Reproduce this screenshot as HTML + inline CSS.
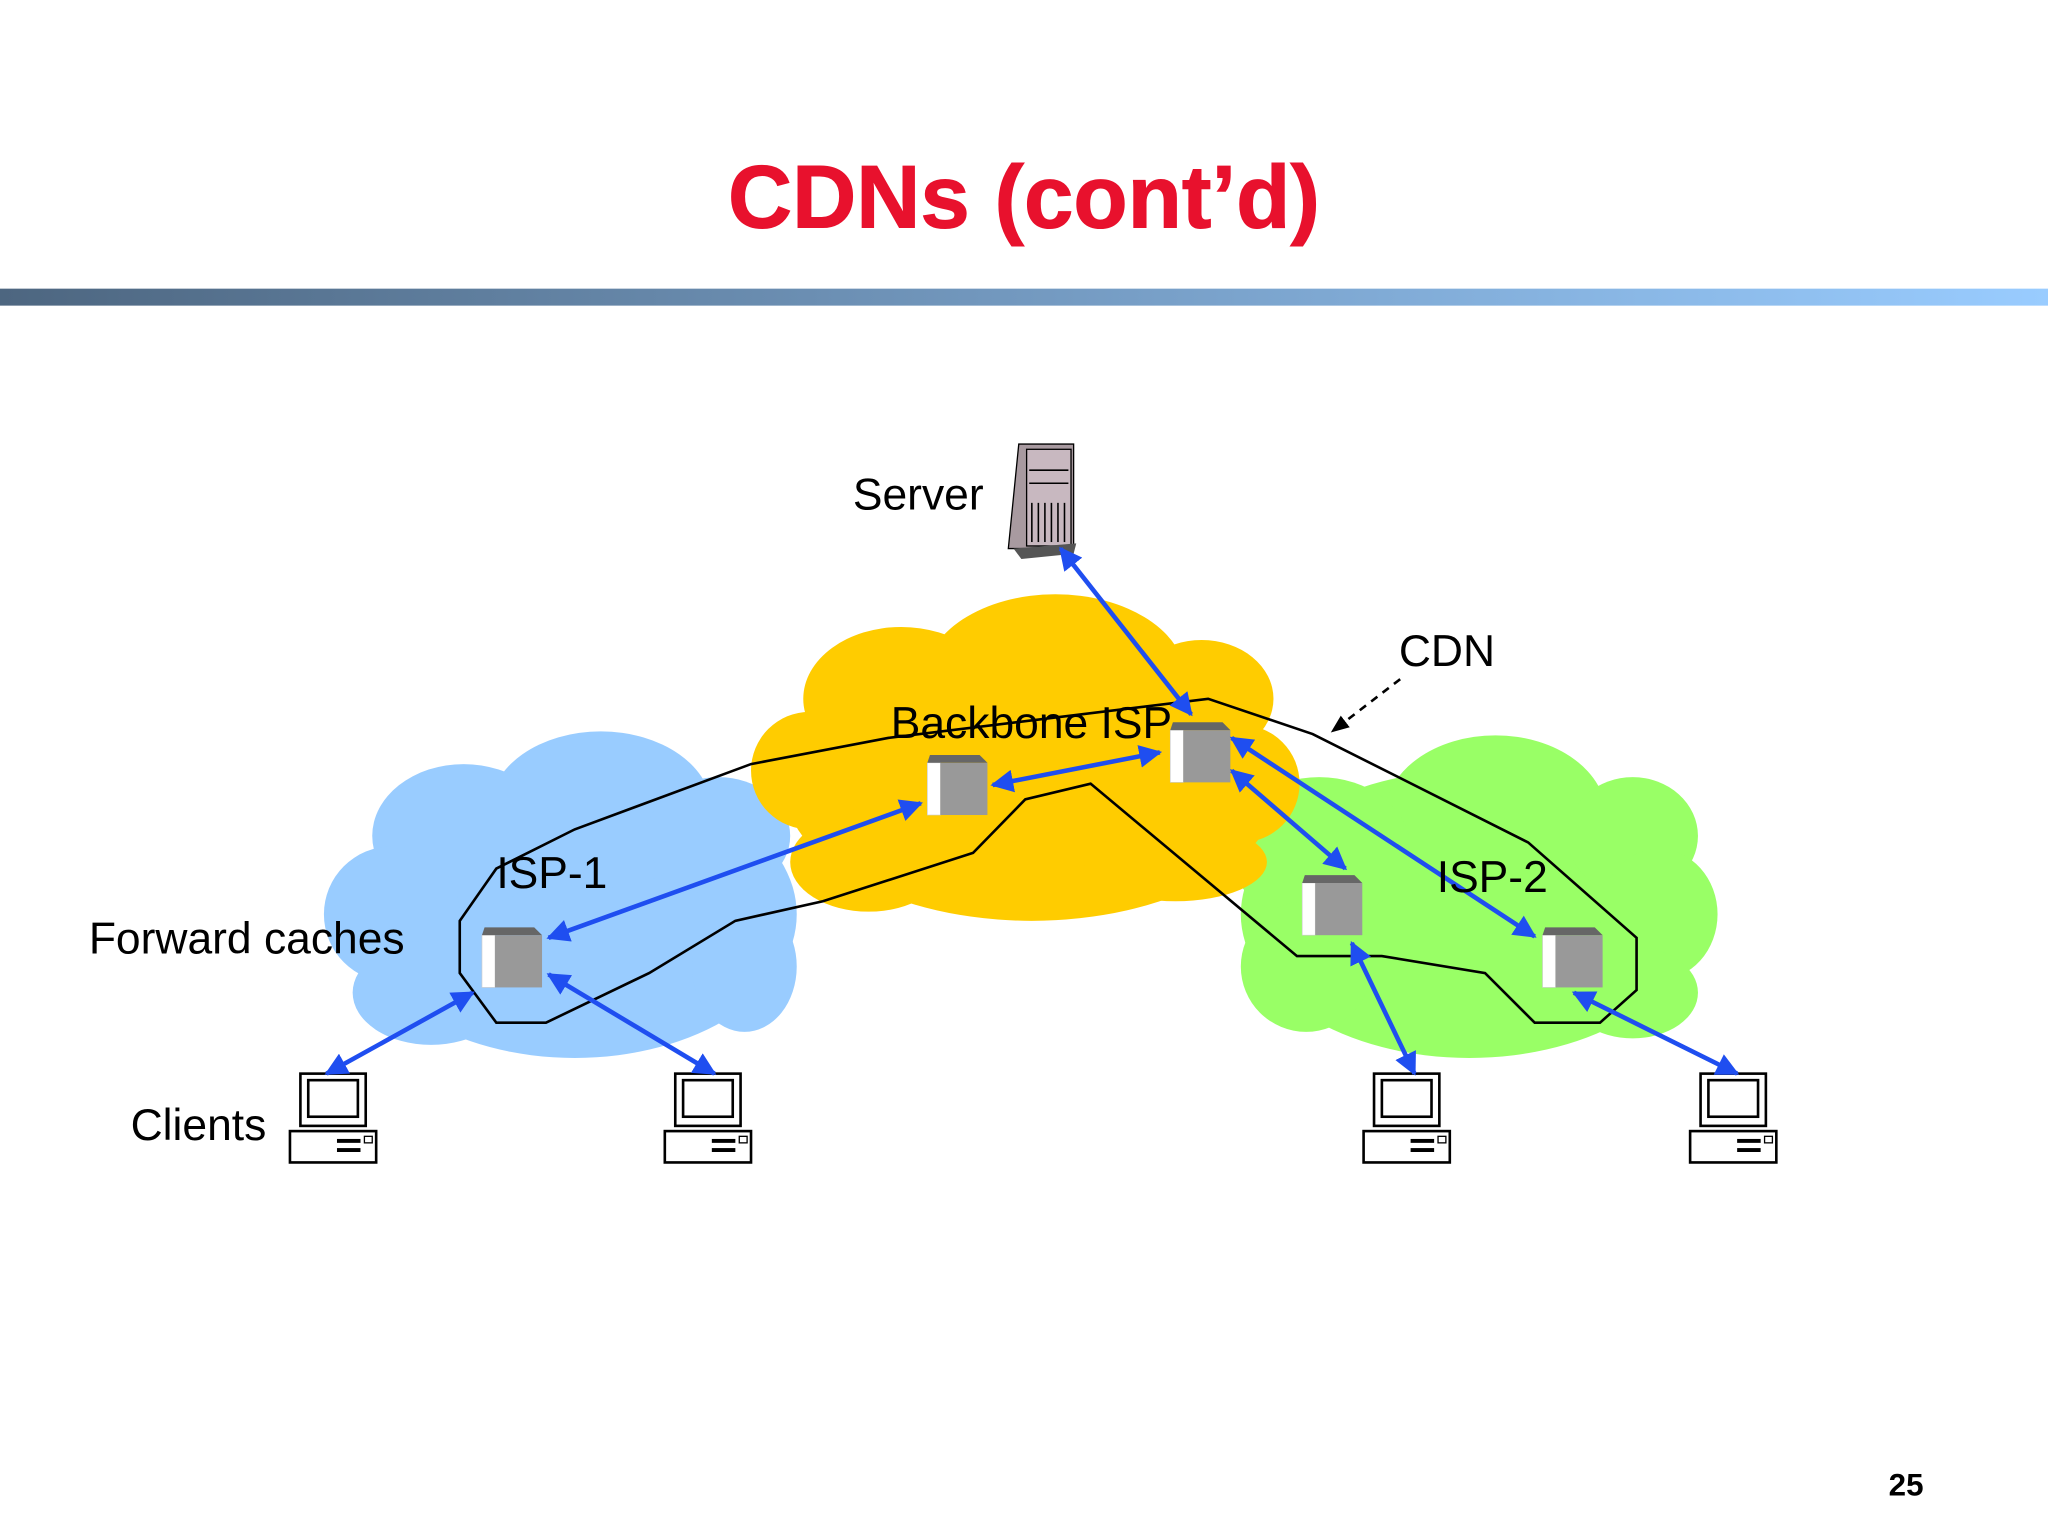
<!DOCTYPE html>
<html><head><meta charset="utf-8"><style>
html,body{margin:0;padding:0;background:#fff;}
svg{display:block;}
text{font-family:"Liberation Sans",sans-serif;}
</style></head><body>
<svg width="2048" height="1536" viewBox="0 0 1568 1176" xmlns="http://www.w3.org/2000/svg">
<defs>
<linearGradient id="bar" x1="0" x2="1"><stop offset="0" stop-color="#4d6680"/><stop offset="1" stop-color="#99ccff"/></linearGradient>
<marker id="ah" viewBox="0 0 10 10" refX="9" refY="5" markerWidth="5" markerHeight="5" orient="auto-start-reverse"><path d="M0,0 L10,5 L0,10 Z" fill="#1f4ef0"/></marker>
<marker id="bh" viewBox="0 0 10 10" refX="9" refY="5" markerWidth="7" markerHeight="7" orient="auto"><path d="M0,1 L10,5 L0,9 Z" fill="#000"/></marker>
<g id="cube"><rect x="0" y="6" width="10" height="40" fill="#fff" stroke="#ccc" stroke-width="0.5"/><rect x="10" y="6" width="36" height="40" fill="#999"/><polygon points="2,0 40,0 46,6 10,6 0,6" fill="#666"/></g>
<g id="pc"><rect x="8" y="0" width="50" height="40" fill="#fff" stroke="#000" stroke-width="2"/><rect x="14" y="5" width="38" height="28" fill="#fff" stroke="#000" stroke-width="2"/><rect x="0" y="44" width="66" height="24" fill="#fff" stroke="#000" stroke-width="2"/><rect x="36" y="50" width="18" height="3" fill="#000"/><rect x="36" y="57" width="18" height="3" fill="#000"/><rect x="57" y="48" width="6" height="5" fill="none" stroke="#000"/></g>
</defs>
<text x="784" y="174" text-anchor="middle" font-size="68" font-weight="bold" fill="#e8112d" stroke="#e8112d" stroke-width="0.8">CDNs (cont’d)</text>
<rect x="0" y="221" width="1568" height="13" fill="url(#bar)"/>
<g fill="#99ccff">
<ellipse cx="440" cy="700" rx="170" ry="110"/><ellipse cx="460" cy="620" rx="85" ry="60"/><ellipse cx="355" cy="640" rx="70" ry="55"/>
<ellipse cx="300" cy="700" rx="52" ry="52"/><ellipse cx="330" cy="760" rx="60" ry="40"/><ellipse cx="550" cy="640" rx="55" ry="45"/><ellipse cx="570" cy="740" rx="40" ry="50"/>
</g>
<g fill="#99ff66">
<ellipse cx="1125" cy="700" rx="175" ry="110"/><ellipse cx="1145" cy="625" rx="85" ry="62"/><ellipse cx="1250" cy="640" rx="50" ry="45"/>
<ellipse cx="1270" cy="700" rx="45" ry="50"/><ellipse cx="1010" cy="650" rx="70" ry="55"/><ellipse cx="1000" cy="740" rx="50" ry="50"/><ellipse cx="1250" cy="760" rx="50" ry="35"/>
</g>
<g fill="#ffcc00">
<ellipse cx="790" cy="600" rx="190" ry="105"/><ellipse cx="808" cy="520" rx="100" ry="65"/><ellipse cx="690" cy="535" rx="75" ry="55"/>
<ellipse cx="920" cy="535" rx="55" ry="45"/><ellipse cx="620" cy="590" rx="45" ry="45"/><ellipse cx="950" cy="600" rx="45" ry="45"/><ellipse cx="665" cy="660" rx="60" ry="38"/><ellipse cx="900" cy="660" rx="70" ry="30"/>
</g>
<path d="M352,705 L380,665 L440,635 L575,585 L680,565 L925,535 L1005,562 L1170,645 L1253,718 L1253,758 L1225,783 L1175,783 L1137,745 L1058,732 L993,732 L835,600 L785,612 L745,653 L630,690 L563,705 L497,745 L418,783 L380,783 L352,745 Z" fill="none" stroke="#000" stroke-width="2"/>
<path d="M1072,520 L1020,560" stroke="#000" stroke-width="2" stroke-dasharray="6,5" marker-end="url(#bh)"/>
<g>
<polygon points="772,420 780,340 822,340 822,420" fill="#a89aa0" stroke="#000"/>
<rect x="786" y="344" width="34" height="74" fill="#c8b8c0" stroke="#000"/>
<g stroke="#000" stroke-width="1.2"><line x1="790" y1="385" x2="790" y2="415"/><line x1="795" y1="385" x2="795" y2="415"/><line x1="800" y1="385" x2="800" y2="415"/><line x1="805" y1="385" x2="805" y2="415"/><line x1="810" y1="385" x2="810" y2="415"/><line x1="815" y1="385" x2="815" y2="415"/><line x1="788" y1="360" x2="818" y2="360"/><line x1="788" y1="370" x2="818" y2="370"/></g>
<polygon points="776,420 824,416 822,424 782,428" fill="#555"/>
</g>
<use href="#cube" x="369" y="710"/><use href="#cube" x="710" y="578"/><use href="#cube" x="896" y="553"/><use href="#cube" x="997" y="670"/><use href="#cube" x="1181" y="710"/>
<use href="#pc" x="222" y="822"/><use href="#pc" x="509" y="822"/><use href="#pc" x="1044" y="822"/><use href="#pc" x="1294" y="822"/>
<g stroke="#1f4ef0" stroke-width="3.5" fill="none" marker-start="url(#ah)" marker-end="url(#ah)">
<line x1="812" y1="420" x2="912" y2="547"/>
<line x1="760" y1="601" x2="888" y2="576"/>
<line x1="420" y1="718" x2="705" y2="615"/>
<line x1="943" y1="565" x2="1175" y2="717"/>
<line x1="943" y1="590" x2="1030" y2="665"/>
<line x1="362" y1="760" x2="250" y2="822"/>
<line x1="420" y1="746" x2="547" y2="822"/>
<line x1="1035" y1="722" x2="1083" y2="822"/>
<line x1="1205" y1="760" x2="1330" y2="822"/>
</g>
<g font-size="34" fill="#000">
<text x="653" y="390">Server</text>
<text x="1071" y="510">CDN</text>
<text x="682" y="565">Backbone ISP</text>
<text x="380" y="680">ISP-1</text>
<text x="1100" y="683">ISP-2</text>
<text x="68" y="730">Forward caches</text>
<text x="100" y="873">Clients</text>
</g>
<text x="1446" y="1145" font-size="24" font-weight="bold">25</text>
</svg>
</body></html>
